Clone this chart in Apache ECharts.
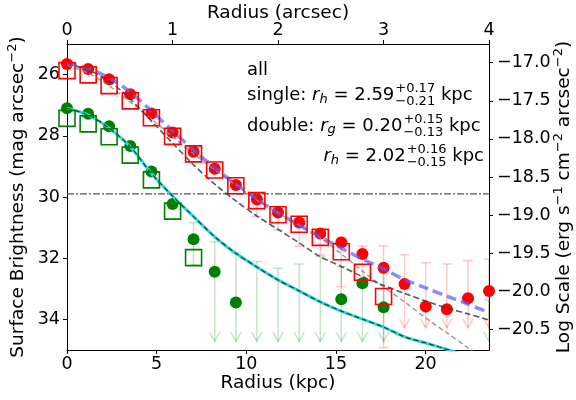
<!DOCTYPE html>
<html>
<head>
<meta charset="utf-8">
<script src="https://cdn.jsdelivr.net/npm/echarts@6/dist/echarts.min.js"></script>
<style>
  html, body { margin: 0; padding: 0; background: #fff; }
  #chart { width: 576px; height: 400px; }
</style>
</head>
<body>
<div id="chart"></div>
<script>
// Radial bins (kpc), 0.2 arcsec apart
const radiusKpc = [0.00, 1.18, 2.35, 3.53, 4.71, 5.89, 7.06, 8.24, 9.42, 10.59, 11.77,
                   12.95, 14.13, 15.30, 16.48, 17.66, 18.83, 20.01, 21.19, 22.37, 23.54];
const radiusMaxKpc = 23.54;
const radiusMaxArcsec = 4;
const kpcTicks = [0, 5, 10, 15, 20];

// Surface brightness profiles (mag arcsec^-2)
const redCircleMag = [25.65, 25.82, 26.15, 26.64, 27.27, 27.89, 28.52, 29.08, 29.61, 30.07, 30.51,
                      30.83, 31.19, 31.49, 31.86, 32.31, 32.84, 33.58, 33.67, 33.31, 33.07];
const redSquareMag = [25.87, 26.01, 26.36, 26.86, 27.41, 28.02, 28.59, 29.12, 29.63, 30.12, 30.58,
                      30.89, 31.32, 31.79, 32.46, 33.25];
const greenCircleMag = [27.10, 27.28, 27.69, 28.33, 29.17, 30.23, 31.38, 32.44, 33.45, null, null,
                        null, null, 33.34, 32.82, 33.60];
const greenSquareMag = [27.43, 27.61, 28.03, 28.63, 29.44, 30.46, 31.98];

// Error ranges (bright end, faint end); upper limits run down to an arrow
const redErrBright = [null, null, null, null, null, null, null, null, null, 30.26, 30.53,
                      30.84, 31.11, 31.32, 31.60, 31.60];
const redErrFaint  = [null, null, null, null, null, null, null, null, null, 30.64, 31.08,
                      31.62, 31.90, 32.93, 32.93, 34.92];
const redLimitBright = [null, null, null, null, null, null, null, null, null, null, null,
                        null, null, null, null, null, 31.89, 32.15, 32.19, 32.08, 32.03];
const redLimitEnd = 34.28;
const greenErrBright = [null, null, null, null, null, null, 30.84];
const greenErrFaint  = [null, null, null, null, null, null, 32.22];
const greenLimitBright = [null, null, null, null, null, null, null, 31.46, 31.82, 32.11, 32.33,
                          32.19, 31.95, 32.28, 32.71, 32.48, null, null, null, null, 33.37];
const greenLimitEnd = 34.72;

// Model profiles sampled at the bin radii
const singleModel = [25.62, 25.80, 26.11, 26.57, 27.19, 27.84, 28.46, 29.05, 29.58, 30.07, 30.52,
                     30.92, 31.30, 31.67, 32.03, 32.35, 32.70, 32.97, 33.24, 33.50, 33.78];
const doubleModel = [25.65, 25.85, 26.21, 26.80, 27.52, 28.24, 28.95, 29.58, 30.13, 30.62, 31.06,
                     31.50, 31.95, 32.27, 32.60, 32.89, 33.15, 33.40, 33.63, 33.82, 34.02];
const doubleModelSpread = [0, 0, 0, 0, 0, 0, 0, 0, 0, 0, 0,
                           0.01, 0.02, 0.03, 0.04, 0.05, 0.07, 0.09, 0.11, 0.13, 0.15];
const squareModel = [25.69, 25.95, 26.37, 26.90, 27.45, 28.03, 28.59, 29.12, 29.61, 30.10, 30.52,
                     30.92, 31.34, 31.86, 32.42, 32.94, 33.43, 33.95, 34.44, 34.93, 35.42];
const greenModel = [27.10, 27.32, 27.75, 28.36, 29.23, 29.97, 30.64, 31.30, 31.84, 32.29, 32.71,
                    33.07, 33.43, 33.73, 33.99, 34.25, 34.57, 34.77, 34.98, 35.20, 35.40];
const limitingMag = 29.90;

// Right-hand axis: log surface brightness
const logTicks = [-17.0, -17.5, -18.0, -18.5, -19.0, -19.5, -20.0, -20.5];
const magTicks = [26, 28, 30, 32, 34];

const FONT = '"DejaVu Sans", "Liberation Sans", sans-serif';

function pairs(ys) {
  const out = [];
  ys.forEach((v, i) => { if (v != null) out.push([radiusKpc[i], v]); });
  return out;
}

function barData(bright, faint, isLimit) {
  const out = [];
  bright.forEach((b, i) => {
    if (b == null) return;
    const f = isLimit ? faint : faint[i];
    out.push([radiusKpc[i], b, f, isLimit ? 1 : 0]);
  });
  return out;
}

function barRenderer(color) {
  return function (params, api) {
    const x = api.value(0);
    const p1 = api.coord([x, api.value(1)]);
    const p2 = api.coord([x, api.value(2)]);
    const lim = api.value(3);
    const st = { stroke: color, lineWidth: 1.5, fill: null };
    const cw = 5;
    const kids = [
      { type: 'line', shape: { x1: p1[0], y1: p1[1], x2: p2[0], y2: p2[1] }, style: st },
      { type: 'line', shape: { x1: p1[0] - cw, y1: p1[1], x2: p1[0] + cw, y2: p1[1] }, style: st }
    ];
    if (lim) {
      kids.push({ type: 'polyline', shape: { points: [[p2[0] - 5, p2[1] - 9], [p2[0], p2[1]], [p2[0] + 5, p2[1] - 9]] }, style: st });
    } else {
      kids.push({ type: 'line', shape: { x1: p2[0] - cw, y1: p2[1], x2: p2[0] + cw, y2: p2[1] }, style: st });
    }
    return { type: 'group', children: kids };
  };
}

// Text layout for the annotation block
const measureCtx = document.createElement('canvas').getContext('2d');
function textWidth(t, size, italic) {
  measureCtx.font = (italic ? 'italic ' : '') + size + 'px ' + FONT;
  return measureCtx.measureText(t).width;
}
const MAIN = 17.5, TITLE = 18.5, NOTE = 18, NOTE_SMALL = 13;
function buildLine(parts, x0, cy, align) {
  const widths = parts.map(p => p.stack
    ? Math.max(textWidth(p.stack[0], NOTE_SMALL), textWidth(p.stack[1], NOTE_SMALL)) + 1
    : textWidth(p.t, p.size || NOTE, p.it));
  const total = widths.reduce((a, b) => a + b, 0);
  let x = align === 'right' ? x0 - total : x0;
  const els = [];
  const mk = (t, xx, yy, size, it) => ({
    type: 'text', x: xx, y: yy, silent: true,
    style: { text: t, fontSize: size, fontFamily: FONT, fontStyle: it ? 'italic' : 'normal',
             fill: '#000', align: 'left', verticalAlign: 'middle' }
  });
  parts.forEach((p, i) => {
    if (p.stack) {
      els.push(mk(p.stack[0], x + 1, cy - 6, NOTE_SMALL, false));
      els.push(mk(p.stack[1], x + 1, cy + 6.5, NOTE_SMALL, false));
    } else {
      els.push(mk(p.t, x, cy + (p.dy || 0), p.size || NOTE, p.it));
    }
    x += widths[i];
  });
  return els;
}

const annotation = [].concat(
  buildLine([{ t: 'all' }], 247, 70, 'left'),
  buildLine([{ t: 'single: ' }, { t: 'r', it: true }, { t: 'h', it: true, size: NOTE_SMALL, dy: 5 },
             { t: ' = 2.59' }, { stack: ['+0.17', '\u22120.21'] }, { t: ' kpc' }], 247, 95, 'left'),
  buildLine([{ t: 'double: ' }, { t: 'r', it: true }, { t: 'g', it: true, size: NOTE_SMALL, dy: 4 },
             { t: ' = 0.20' }, { stack: ['+0.15', '\u22120.13'] }, { t: ' kpc' }], 247, 126, 'left'),
  buildLine([{ t: 'r', it: true }, { t: 'h', it: true, size: NOTE_SMALL, dy: 5 },
             { t: ' = 2.02' }, { stack: ['+0.16', '\u22120.15'] }, { t: ' kpc' }], 484, 156, 'right')
);

const axisCommon = {
  axisLine: { show: true, onZero: false, lineStyle: { color: '#000', width: 1 } },
  axisTick: { show: true, inside: false, length: 4, lineStyle: { color: '#000', width: 1 } },
  splitLine: { show: false },
  nameLocation: 'middle',
  nameMoveOverlap: false,
  nameTextStyle: { fontSize: TITLE, fontFamily: FONT, color: '#000' }
};
const labelCommon = { fontSize: MAIN, fontFamily: FONT, color: '#000' };
const supRich = { sup: { fontSize: 13, fontFamily: FONT, color: '#000', verticalAlign: 'top', lineHeight: 14 },
                  n: { fontSize: TITLE, fontFamily: FONT, color: '#000', lineHeight: 24 } };

const chart = echarts.init(document.getElementById('chart'), null, { renderer: 'canvas' });

const bandLower = doubleModel.map((v, i) => v - doubleModelSpread[i]);
const bandWidth = doubleModelSpread.map(s => 2 * s);

chart.setOption({
  animation: false,
  backgroundColor: '#fff',
  grid: { left: 67, right: 87, top: 44, bottom: 50, containLabel: false, outerBoundsMode: 'none' },
  xAxis: [
    Object.assign({}, axisCommon, {
      type: 'value', position: 'bottom', min: 0, max: radiusMaxKpc, interval: 5,
      name: 'Radius (kpc)', nameGap: 24,
      axisTick: Object.assign({}, axisCommon.axisTick, { customValues: kpcTicks }),
      axisLabel: Object.assign({ margin: 5, customValues: kpcTicks }, labelCommon)
    }),
    Object.assign({}, axisCommon, {
      type: 'value', position: 'top', min: 0, max: radiusMaxArcsec, interval: 1,
      name: 'Radius (arcsec)', nameGap: 21,
      axisLabel: Object.assign({ margin: 5 }, labelCommon)
    })
  ],
  yAxis: [
    Object.assign({}, axisCommon, {
      type: 'value', position: 'left', min: 25, max: 35, inverse: true,
      name: '{n|Surface Brightness (mag arcsec}{sup|\u22122}{n|)}', nameGap: 37, nameRotate: 90,
      nameTextStyle: { fontSize: TITLE, fontFamily: FONT, color: '#000', rich: supRich },
      axisTick: Object.assign({}, axisCommon.axisTick, { customValues: magTicks }),
      axisLabel: Object.assign({ margin: 7, customValues: magTicks }, labelCommon)
    }),
    Object.assign({}, axisCommon, {
      type: 'value', position: 'right', min: -20.772, max: -16.754,
      name: '{n|Log Scale (erg s}{sup|\u22121}{n| cm}{sup|\u22122}{n| arcsec}{sup|\u22122}{n|)}',
      nameGap: 63, nameRotate: 90,
      nameTextStyle: { fontSize: TITLE, fontFamily: FONT, color: '#000', rich: supRich },
      axisTick: Object.assign({}, axisCommon.axisTick, { customValues: logTicks }),
      axisLabel: Object.assign({ margin: 8, customValues: logTicks,
        formatter: v => v.toFixed(1).replace('-', '\u2212') }, labelCommon)
    })
  ],
  graphic: annotation,
  series: [
    { type: 'custom', name: 'red errors', renderItem: barRenderer('rgba(255,0,0,0.22)'),
      data: barData(redErrBright, redErrFaint, false), z: 1, clip: true },
    { type: 'custom', name: 'red limits', renderItem: barRenderer('rgba(255,0,0,0.22)'),
      data: barData(redLimitBright, redLimitEnd, true), z: 1, clip: true },
    { type: 'custom', name: 'green errors', renderItem: barRenderer('rgba(0,128,0,0.22)'),
      data: barData(greenErrBright, greenErrFaint, false), z: 1, clip: true },
    { type: 'custom', name: 'green limits', renderItem: barRenderer('rgba(0,128,0,0.22)'),
      data: barData(greenLimitBright, greenLimitEnd, true), z: 1, clip: true },
    { type: 'line', name: 'limit', data: [[0, limitingMag], [radiusMaxKpc, limitingMag]],
      symbol: 'none', lineStyle: { color: '#555', width: 1.3, type: [7, 2, 2, 2] }, z: 2 },
    { type: 'scatter', name: 'green', data: pairs(greenCircleMag), symbol: 'circle', symbolSize: 12,
      itemStyle: { color: '#008000', opacity: 1 }, z: 3 },
    { type: 'scatter', name: 'red', data: pairs(redCircleMag), symbol: 'circle', symbolSize: 12,
      itemStyle: { color: '#ff0000', opacity: 1 }, z: 3 },
    // uncertainty band of the double-component model
    { type: 'line', data: pairs(bandLower), stack: 'band', symbol: 'none', smooth: 0.3,
      lineStyle: { opacity: 0 }, z: 4 },
    { type: 'line', data: pairs(bandWidth), stack: 'band', symbol: 'none', smooth: 0.3,
      lineStyle: { opacity: 0 }, areaStyle: { color: 'rgba(120,120,120,0.35)' }, z: 4 },
    { type: 'line', name: 'green model', data: pairs(greenModel), symbol: 'none', smooth: 0.3,
      lineStyle: { color: '#22dddd', width: 3 }, z: 5 },
    { type: 'line', name: 'green model core', data: pairs(greenModel), symbol: 'none', smooth: 0.3,
      lineStyle: { color: '#333', width: 1.2, type: [5, 3] }, z: 6 },
    { type: 'line', name: 'square model', data: pairs(squareModel), symbol: 'none', smooth: 0.3,
      lineStyle: { color: 'rgba(140,140,140,0.85)', width: 1.5, type: [5, 3] }, z: 5 },
    { type: 'line', name: 'double', data: pairs(doubleModel), symbol: 'none', smooth: 0.3,
      lineStyle: { color: 'rgba(50,50,50,0.8)', width: 1.6, type: [6, 3] }, z: 6 },
    { type: 'line', name: 'single', data: pairs(singleModel), symbol: 'none', smooth: 0.3,
      lineStyle: { color: 'rgba(90,90,255,0.7)', width: 3.5, type: [10, 5] }, z: 7 },
    { type: 'scatter', name: 'green squares', data: pairs(greenSquareMag), symbol: 'rect', symbolSize: 16,
      itemStyle: { color: 'rgba(0,0,0,0)', borderColor: '#008000', borderWidth: 1.6, opacity: 1 }, z: 8 },
    { type: 'scatter', name: 'red squares', data: pairs(redSquareMag), symbol: 'rect', symbolSize: 16,
      itemStyle: { color: 'rgba(0,0,0,0)', borderColor: '#ff0000', borderWidth: 1.6, opacity: 1 }, z: 8 }
  ]
});
</script>
</body>
</html>
